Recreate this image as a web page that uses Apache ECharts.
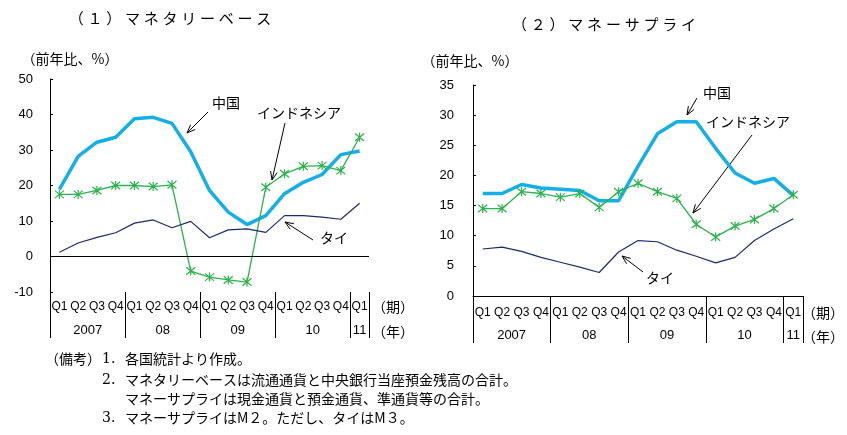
<!DOCTYPE html>
<html>
<head>
<meta charset="utf-8">
<script src="https://cdn.jsdelivr.net/npm/echarts@6.0.0/dist/echarts.min.js"></script>
<style>
  html, body { margin: 0; padding: 0; background: #fff; }
  #main { width: 847px; height: 435px; }
</style>
</head>
<body>
<div id="main"></div>
<script>
const quarters = ['Q1', 'Q2', 'Q3', 'Q4', 'Q1', 'Q2', 'Q3', 'Q4', 'Q1', 'Q2', 'Q3', 'Q4', 'Q1', 'Q2', 'Q3', 'Q4', 'Q1'];
const years = ['2007', '2007', '2007', '2007', '08', '08', '08', '08', '09', '09', '09', '09', '10', '10', '10', '10', '11'];

// (1) マネタリーベース
const baseChina = [18.9, 28.2, 32.2, 33.6, 38.8, 39.2, 37.5, 29.5, 18.6, 12.5, 9.0, 11.5, 17.7, 20.9, 23.1, 28.7, 29.7];
const baseIndonesia = [17.5, 17.5, 18.6, 20.0, 20.0, 19.7, 20.2, -4.1, -5.8, -6.6, -7.2, 19.5, 23.3, 25.4, 25.6, 24.2, 33.6];
const baseThai = [1.2, 3.8, 5.4, 6.7, 9.4, 10.3, 8.1, 9.9, 5.3, 7.5, 7.8, 6.8, 11.5, 11.5, 11.1, 10.5, 15.0];

// (2) マネーサプライ
const supplyChina = [17.0, 17.0, 18.5, 17.9, 17.7, 17.5, 15.8, 15.8, 21.5, 26.9, 28.9, 28.9, 24.5, 20.4, 18.7, 19.5, 16.7];
const supplyIndonesia = [14.5, 14.5, 17.3, 17.0, 16.4, 17.0, 14.7, 17.3, 18.7, 17.3, 16.2, 11.9, 9.8, 11.6, 12.7, 14.5, 16.8];
const supplyThai = [7.8, 8.1, 7.4, 6.4, 5.6, 4.8, 3.9, 7.3, 9.2, 9.0, 7.6, 6.6, 5.5, 6.4, 9.2, 11.1, 12.8];

const FONT = '"Liberation Sans", Arial, sans-serif';
const JP = '"Noto Sans CJK JP", sans-serif';
const C_CHINA = '#14aee8';
const C_INDO = '#2bb24c';
const C_THAI = '#1c2a6b';
const STAR = 'path://M0,0L10,10M10,0L0,10M5,-1L5,11';

// 年ラベルのまとまり
const yearRuns = [];
years.forEach((y, i) => {
  if (i === 0 || years[i - 1] !== y) yearRuns.push({ start: i, len: 1, label: y });
  else yearRuns[yearRuns.length - 1].len++;
});
function yearLabel(value, index) {
  for (const r of yearRuns) {
    const mid = r.start + Math.floor((r.len - 1) / 2);
    if (index === mid) return r.len % 2 === 0 ? '{p|' + r.label + '}' : r.label;
  }
  return '';
}

function xAxes(gridIndex, qMargin, yOffset, showLine) {
  return [
    {
      type: 'category', gridIndex: gridIndex, data: quarters, position: 'bottom',
      axisLine: { show: showLine, lineStyle: { color: '#000', width: 1 } },
      axisTick: { show: false },
      axisLabel: { interval: 0, color: '#000', fontFamily: FONT, fontSize: 12, margin: qMargin }
    },
    {
      type: 'category', gridIndex: gridIndex, data: years, position: 'bottom', offset: yOffset,
      axisLine: { show: false },
      axisTick: {
        show: true, inside: true, length: yOffset,
        interval: (i) => yearRuns.some(r => r.start === i),
        lineStyle: { color: '#000', width: 1 }
      },
      axisLabel: {
        inside: true, interval: 0, margin: 1, color: '#000', fontFamily: FONT, fontSize: 13,
        formatter: yearLabel,
        rich: { p: { padding: [0, 0, 0, 19], fontFamily: FONT, fontSize: 13, color: '#000' } }
      }
    }
  ];
}

function yAxis(gridIndex, min, max, interval, margin) {
  return {
    type: 'value', gridIndex: gridIndex, min: min, max: max, interval: interval,
    axisLine: { show: true, lineStyle: { color: '#000', width: 1 } },
    axisTick: { show: true, inside: true, length: 3, lineStyle: { color: '#000' } },
    axisLabel: { color: '#000', fontFamily: FONT, fontSize: 13, margin: margin },
    splitLine: { show: false }
  };
}

function lines(xi, yi, china, indo, thai, zeroLine) {
  const s = [
    {
      name: '中国', type: 'line', xAxisIndex: xi, yAxisIndex: yi, data: china,
      showSymbol: false, symbol: 'none', lineStyle: { color: C_CHINA, width: 3.5 }
    },
    {
      name: 'インドネシア', type: 'line', xAxisIndex: xi, yAxisIndex: yi, data: indo,
      symbol: STAR, symbolSize: 9,
      itemStyle: { color: C_INDO, borderColor: C_INDO, borderWidth: 1.2 },
      lineStyle: { color: C_INDO, width: 1.3 }
    },
    {
      name: 'タイ', type: 'line', xAxisIndex: xi, yAxisIndex: yi, data: thai,
      symbol: 'none', lineStyle: { color: C_THAI, width: 1.2 }
    }
  ];
  if (zeroLine) {
    s[2].markLine = {
      silent: true, symbol: 'none', label: { show: false },
      lineStyle: { color: '#000', width: 1, type: 'solid' },
      data: [{ yAxis: 0 }]
    };
  }
  return s;
}

function arrow(x1, y1, x2, y2) {
  const a = Math.atan2(y2 - y1, x2 - x1), h = 9, s = 0.38;
  return {
    type: 'group', children: [
      { type: 'line', shape: { x1: x1, y1: y1, x2: x2, y2: y2 }, style: { stroke: '#000', lineWidth: 1 } },
      {
        type: 'polyline',
        shape: { points: [[x2 - h * Math.cos(a - s), y2 - h * Math.sin(a - s)], [x2, y2], [x2 - h * Math.cos(a + s), y2 - h * Math.sin(a + s)]] },
        style: { stroke: '#000', lineWidth: 1, fill: null }
      }
    ]
  };
}

function text(str, x, y, size, align, family) {
  return {
    type: 'text', x: x, y: y,
    style: { text: str, font: size + 'px ' + (family || JP), fill: '#000', align: align || 'center', verticalAlign: 'middle' }
  };
}

const sp = '\u2005';
const notes = [
  ['（備考）', '1.', '各国統計より作成。'],
  ['', '2.', 'マネタリーベースは流通通貨と中央銀行当座預金残高の合計。'],
  ['', '', 'マネーサプライは現金通貨と預金通貨、準通貨等の合計。'],
  ['', '3.', 'マネーサプライはM２。ただし、タイはM３。']
];
const noteY = [359, 380, 399, 418];

const graphics = [
  text('（１）マネタリーベース'.split('').join(sp), 170, 18, 15),
  text('（２）マネーサプライ'.split('').join(sp), 604, 24, 15),
  text('（前年比、%）', 70, 59, 14),
  text('（前年比、%）', 470, 61, 14),
  text('（期）', 393, 307, 14), text('（年）', 393, 332, 14),
  text('（期）', 823, 313, 14), text('（年）', 823, 337, 14),
  // (1) annotations
  text('中国', 226, 103, 14), arrow(208, 112, 187, 133),
  text('インドネシア', 299, 113, 14), arrow(285, 123, 272, 180),
  text('タイ', 334, 238, 14), arrow(313, 240, 285, 222),
  // (2) annotations
  text('中国', 717, 93, 14), arrow(697, 98, 687, 115),
  text('インドネシア', 748, 122, 14), arrow(752, 135, 693, 213),
  text('タイ', 660, 278, 14), arrow(643, 272, 622, 256)
];
notes.forEach((n, i) => {
  if (n[0]) graphics.push(text(n[0], 45, noteY[i], 14, 'left'));
  if (n[1]) graphics.push(text(n[1], 102, noteY[i], 14, 'left', '"DejaVu Serif", serif'));
  graphics.push(text(n[2], 125, noteY[i], 14, 'left'));
});

const chart = echarts.init(document.getElementById('main'), null, { renderer: 'canvas' });
chart.setOption({
  animation: false,
  backgroundColor: '#fff',
  grid: [
    { left: 50, top: 79, width: 319, height: 213, containLabel: false, outerBoundsMode: 'none' },
    { left: 473, top: 85, width: 330, height: 211, containLabel: false, outerBoundsMode: 'none' }
  ],
  xAxis: [].concat(xAxes(0, 9, 46, false), xAxes(1, 11, 47, true)),
  yAxis: [yAxis(0, -10, 50, 10, 17), yAxis(1, 0, 35, 5, 19)],
  series: [].concat(lines(0, 0, baseChina, baseIndonesia, baseThai, true),
                    lines(2, 1, supplyChina, supplyIndonesia, supplyThai, false)),
  graphic: graphics
});
</script>
</body>
</html>
